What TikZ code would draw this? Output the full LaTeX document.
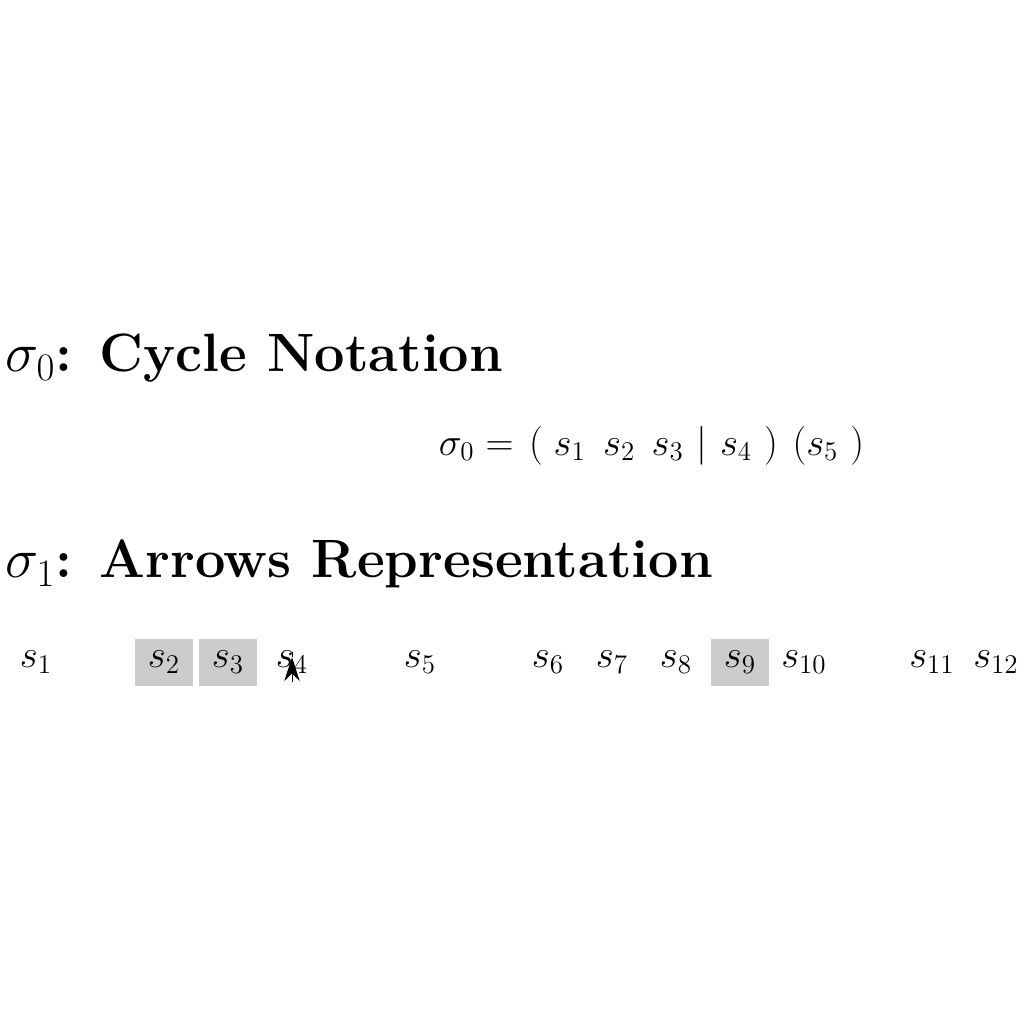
\documentclass[tikz,border=0pt]{standalone}
\usetikzlibrary{arrows.meta}
\begin{document}
\begin{tikzpicture}[
  title/.style={anchor=base west, font=\fontsize{24}{29}\selectfont\bfseries, inner sep=0pt},
  elem/.style={font=\LARGE, minimum width=0.9cm, minimum height=0.73cm, inner sep=0pt},
  hl/.style={elem, fill=black!20},
  eqn/.style={font=\LARGE, anchor=base west, inner sep=0pt}
]
\useasboundingbox (0,0) rectangle (16,-16);
\node[title] (t0) at (0.08,-5.81) {$\sigma_0$: Cycle Notation};
\node[eqn] (eq) at (6.85,-7.11) {$\sigma_0 =\hspace{0.12em} (\hspace{0.28em} s_1\hspace{0.44em} s_2\hspace{0.42em} s_3\hspace{0.33em} |\hspace{0.32em} s_4\ )\hspace{0.38em} (s_5\ )$};
\node[title] (t1) at (0.08,-9.03) {$\sigma_1$: Arrows Representation};
\foreach \k/\i/\st in {0/1/elem,2/2/hl,3/3/hl,4/4/elem,6/5/elem,8/6/elem,9/7/elem,10/8/elem,11/9/hl,12/10/elem,14/11/elem,15/12/elem}{
  \node[\st] (s\i) at ({0.5625+\k},-10.35) {$s_{\i}$};
}
\coordinate (a0) at ([yshift=-0.3cm]s4.center);
\coordinate (a1) at ([yshift=0.08cm]s4.center);
\coordinate (a2) at ([yshift=0.17cm]s4.center);
\draw (a2) -- (a1);
\draw[-{Stealth[length=0.37cm,width=0.24cm]}] (a0) -- (a1);
\end{tikzpicture}
\end{document}
